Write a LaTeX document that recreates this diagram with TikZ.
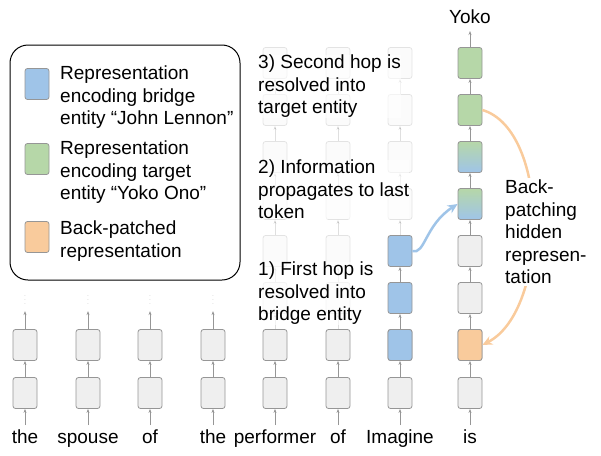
\documentclass[tikz,border=0pt]{standalone}
\usepackage{fontspec}
\setmainfont{Liberation Sans}
\usetikzlibrary{arrows.meta}
\definecolor{cellgrey}{RGB}{239,239,239}
\definecolor{edgegrey}{RGB}{150,150,150}
\definecolor{bridgeblue}{RGB}{159,196,232}
\definecolor{targetgreen}{RGB}{182,215,168}
\definecolor{patchorange}{RGB}{249,203,156}
\tikzset{
  cell/.style={draw=edgegrey, fill=cellgrey, rounded corners=2.5pt, minimum width=24pt, minimum height=31pt, inner sep=0pt, line width=0.8pt},
  faded/.style={cell, draw opacity=0.25, fill opacity=0.25},
  link/.style={-{Stealth[length=4pt,width=3pt]}, edgegrey, line width=0.8pt},
  fadedlink/.style={link, draw opacity=0.3, fill opacity=0.3},
  word/.style={font=\fontsize{19}{22}\selectfont, anchor=base},
  note/.style={font=\fontsize{19}{22.5}\selectfont, align=left, anchor=north west, inner sep=0pt}
}
\begin{document}
\begin{tikzpicture}[x=1pt, y=-1pt]
  \useasboundingbox (0,0) rectangle (601,455);

  % Legend
  \draw[rounded corners=18pt, line width=1pt] (10,45) rectangle (240,280);
  \node[cell, fill=bridgeblue] (keyblue) at (37,84) {};
  \node[cell, fill=targetgreen] (keygreen) at (37,159) {};
  \node[cell, fill=patchorange] (keyorange) at (37,237) {};
  \node[note] (txtblue) at (60,66) {Representation\\encoding bridge\\entity “John Lennon”};
  \node[note] (txtgreen) at (60,141) {Representation\\encoding target\\entity “Yoko Ono”};
  \node[note] (txtorange) at (60,221) {Back-patched\\representation};

  % Tokens and lower cells
  \foreach \x/\w [count=\i] in {25/the, 88/spouse, 150/of, 213/the, 275/performer, 338/of, 400/Imagine, 470/is} {
    \node[word] (w\i) at (\x,443) {\w};
    \node[cell] (c\i-1) at (\x,393) {};
    \node[cell] (c\i-2) at (\x,345) {};
    \draw[link] (\x,425) -- (c\i-1);
    \draw[link] (c\i-1) -- (c\i-2);
  }

  % First four columns end in dots
  \foreach \i in {1,...,4} {
    \coordinate (top\i) at ([yshift=18pt]c\i-2.north);
    \draw[link] (c\i-2) -- (top\i);
    \node[font=\tiny, text=edgegrey] (dots\i) at ([yshift=32pt]c\i-2.north) {$\vdots$};
  }

  % Faded upper cells
  \foreach \x [count=\k from 5] in {275,338} {
    \foreach \y [count=\j from 3] in {298,251,204,157,110,63} {
      \node[faded] (c\k-\j) at (\x,\y) {};
    }
    \foreach \j [evaluate=\j as \n using int(\j+1)] in {2,...,7} {
      \draw[fadedlink] (c\k-\j) -- (c\k-\n);
    }
  }

  % Imagine column
  \node[cell, fill=bridgeblue] (c7-2) at (400,345) {};
  \node[cell, fill=bridgeblue] (c7-3) at (400,298) {};
  \node[cell, fill=bridgeblue] (c7-4) at (400,251) {};
  \foreach \y [count=\j from 5] in {204,157,110,63} {
    \node[faded] (c7-\j) at (400,\y) {};
  }
  \draw[link] (c7-2) -- (c7-3);
  \draw[link] (c7-3) -- (c7-4);
  \draw[fadedlink] (c7-4) -- (c7-5);
  \foreach \j [evaluate=\j as \n using int(\j+1)] in {5,6,7} {
    \draw[fadedlink] (c7-\j) -- (c7-\n);
  }

  % Last column
  \node[cell, fill=patchorange] (c8-2) at (470,345) {};
  \node[cell] (c8-3) at (470,298) {};
  \node[cell] (c8-4) at (470,251) {};
  \node[cell, top color=targetgreen, bottom color=bridgeblue] (c8-5) at (470,204) {};
  \node[cell, top color=targetgreen, bottom color=bridgeblue] (c8-6) at (470,157) {};
  \node[cell, fill=targetgreen] (c8-7) at (470,110) {};
  \node[cell, fill=targetgreen] (c8-8) at (470,63) {};
  \foreach \j [evaluate=\j as \n using int(\j+1)] in {2,...,7} {
    \draw[link] (c8-\j) -- (c8-\n);
  }
  \node[word] (yoko) at (470,23) {Yoko};
  \draw[link] (c8-8) -- (470,31);

  % Step notes
  \node[note, fill=white, fill opacity=0.6, text opacity=1] (step3) at (258,55) {3) Second hop is\\resolved into\\target entity};
  \node[note, fill=white, fill opacity=0.6, text opacity=1] (step2) at (258,160) {2) Information\\propagates to last\\token};
  \node[note, fill=white, fill opacity=0.6, text opacity=1] (step1) at (258,262) {1) First hop is\\resolved into\\bridge entity};

  % Bridge to last token
  \draw[-{Stealth[length=10pt,width=9pt]}, bridgeblue, line width=2.5pt]
    (c7-4.east) .. controls (425,255) and (425,225) .. (c8-5.west);

  % Back-patching
  \draw[-{Stealth[length=10pt,width=9pt]}, patchorange, line width=2.5pt]
    (c8-7.east) .. controls (550,130) and (550,310) .. (c8-2.east);
  \node[note, fill=white, inner sep=2pt] (patch) at (503,178) {Back-\\patching\\hidden\\represen-\\tation};
\end{tikzpicture}
\end{document}
